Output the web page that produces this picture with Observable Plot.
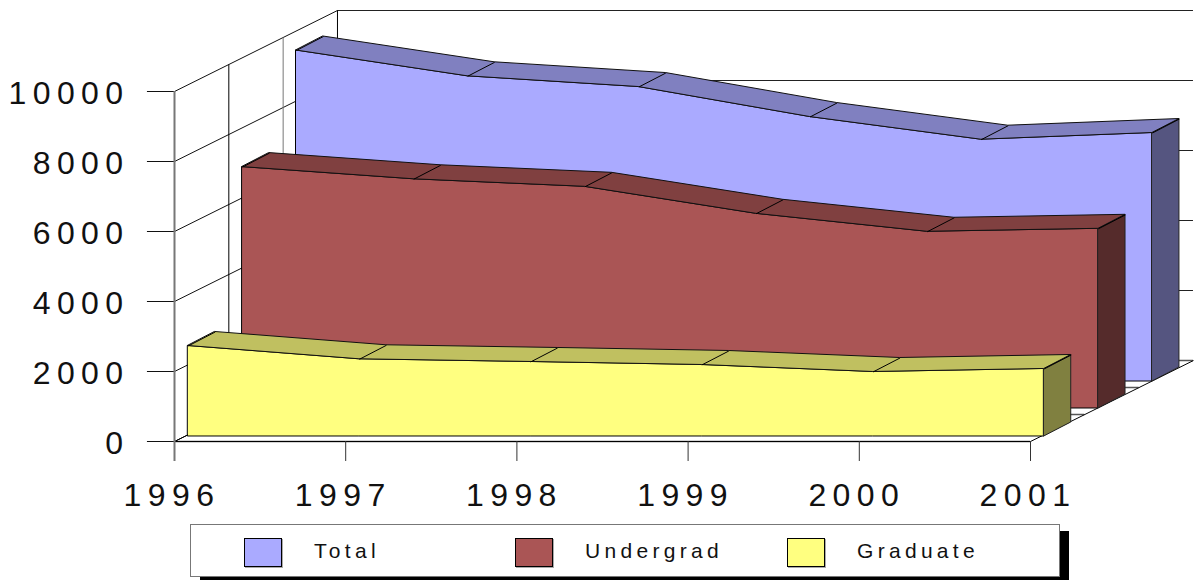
<!DOCTYPE html>
<html>
<head>
<meta charset="utf-8">
<script src="https://cdn.jsdelivr.net/npm/d3@7"></script>
<script src="https://cdn.jsdelivr.net/npm/@observablehq/plot@0.6"></script>
<style>
html,body{margin:0;padding:0;background:#fff;overflow:hidden}
#chart svg{display:block;background:#fff}
#chart svg text{letter-spacing:6.4px;fill:#111}
#legend{position:relative;width:1194px;height:56px;font-family:"Liberation Sans",Arial,sans-serif}
#legend .shadow{position:absolute;left:200px;top:7px;width:869px;height:49px;background:#000}
#legend .box{position:absolute;left:190px;top:0;width:868px;height:51px;background:#fff;border:1.5px solid #777}
#legend .swatch{position:absolute;top:14px;width:36px;height:27px;border:1px solid #000;box-shadow:1px 1px 0 #aaa}
#legend .label{position:absolute;top:14px;font-size:21px;line-height:26px;letter-spacing:4.3px;color:#111;white-space:nowrap}
</style>
</head>
<body>
<div id="chart"></div>
<div id="legend"></div>
<script>
const years = [1996, 1997, 1998, 1999, 2000, 2001];
const yTicks = [0, 2000, 4000, 6000, 8000, 10000];
const total = [9457, 8720, 8414, 7557, 6909, 7100];
const undergrad = [6897, 6549, 6334, 5563, 5049, 5134];
const graduate = [2586, 2206, 2129, 2043, 1843, 1929];
const seriesNames = ["Total", "Undergrad", "Graduate"];
const frontColors = ["#AAAAFF", "#AA5555", "#FFFF80"];
const topColors = ["#8080C0", "#804040", "#C0C060"];
const sideColors = ["#555580", "#552B2B", "#808040"];
const legendSwatchX = [244, 515, 787];
const legendLabelX = [314, 585, 857];

// Oblique depth of the chart box, in data units (years, values)
const wallX = 0.952, wallY = 2314;
const faceX = 0.158, faceY = 400;
const placements = [[0.712, 1714], [0.397, 943], [0.08, 143]];
const tickX = 0.158, tickY = 571;

function layer(values, i) {
  const [ox, oy] = placements[i];
  const rows = years.map((yr, k) => ({fx: yr + ox, fy: values[k] + oy, base: oy, bx: yr + ox + faceX, by: values[k] + oy + faceY}));
  const last = rows[rows.length - 1];
  const side = [
    {x: last.fx, y1: last.base, y2: last.fy},
    {x: last.bx, y1: last.base + faceY, y2: last.by}
  ];
  return [
    Plot.areaY(rows, {x: "fx", y1: "base", y2: "fy", fill: frontColors[i], stroke: "#000", strokeWidth: 1}),
    Plot.areaY(side, {x: "x", y1: "y1", y2: "y2", fill: sideColors[i], stroke: "#222", strokeWidth: 1}),
    Plot.area(rows, {x1: "fx", y1: "fy", x2: "bx", y2: "by", fill: topColors[i], stroke: "#111", strokeWidth: 1}),
    Plot.link(rows, {x1: "fx", y1: "fy", x2: "bx", y2: "by", stroke: "#000", strokeWidth: 1})
  ];
}

const depthFractions = [0, 1 / 3, 2 / 3, 1];
const depthColors = ["#777", "#000", "#777", "#000"];

const chart = Plot.plot({
  width: 1194,
  height: 524,
  marginLeft: 174,
  marginRight: 164,
  marginTop: 91,
  marginBottom: 83,
  style: {fontFamily: '"Liberation Sans",Arial,sans-serif', background: "#fff", overflow: "visible"},
  x: {domain: [1996, 2001], label: null},
  y: {domain: [0, 10000], label: null},
  marks: [
    // back wall
    Plot.ruleY(yTicks, {y: d => d + wallY, x1: 1996 + wallX, x2: 2001 + wallX, stroke: "#222", strokeWidth: 1}),
    // side wall
    Plot.link(yTicks, {x1: 1996, y1: d => d, x2: 1996 + wallX, y2: d => d + wallY, stroke: "#111", strokeWidth: 1}),
    Plot.link(depthFractions, {
      x1: f => 1996 + f * wallX, y1: f => f * wallY,
      x2: f => 1996 + f * wallX, y2: f => 10000 + f * wallY,
      stroke: (f, i) => depthColors[i], strokeWidth: 1
    }),
    // floor
    Plot.ruleY(depthFractions, {y: f => f * wallY, x1: f => 1996 + f * wallX, x2: f => 2001 + f * wallX, stroke: "#555", strokeWidth: 1.5}),
    Plot.ruleY([0], {x1: 1996, x2: 2001, stroke: "#000", strokeWidth: 1}),
    Plot.link([0], {x1: 2001, y1: 0, x2: 2001 + wallX, y2: wallY, stroke: "#000", strokeWidth: 1}),
    Plot.link([0], {x1: 1996, y1: 0, x2: 1996 + wallX, y2: wallY, stroke: "#000", strokeWidth: 1}),
    ...layer(total, 0),
    ...layer(undergrad, 1),
    ...layer(graduate, 2),
    // ticks
    Plot.ruleY(yTicks, {x1: 1996 - tickX, x2: 1996, stroke: "#111", strokeWidth: 1}),
    Plot.ruleX(years.slice(1), {y1: -tickY, y2: 0, stroke: "#333", strokeWidth: 1}),
    Plot.ruleX([1996], {y1: -tickY, y2: 10000, stroke: "#777", strokeWidth: 2}),
    // tick labels
    Plot.axisY({ticks: yTicks, tickSize: 0, tickPadding: 45, dy: 2.5, fontSize: 32, tickFormat: d => String(d), label: null}),
    Plot.axisX({ticks: years, tickSize: 0, tickPadding: 42, dx: -2.5, fontSize: 32, tickFormat: d => String(d), label: null})
  ]
});
document.getElementById("chart").append(chart);

const legend = document.getElementById("legend");
legend.innerHTML = '<div class="shadow"></div><div class="box"></div>';
seriesNames.forEach((name, i) => {
  const s = document.createElement("div");
  s.className = "swatch";
  s.style.left = legendSwatchX[i] + "px";
  s.style.background = frontColors[i];
  legend.append(s);
  const t = document.createElement("div");
  t.className = "label";
  t.style.left = legendLabelX[i] + "px";
  t.textContent = name;
  legend.append(t);
});
</script>
</body>
</html>
